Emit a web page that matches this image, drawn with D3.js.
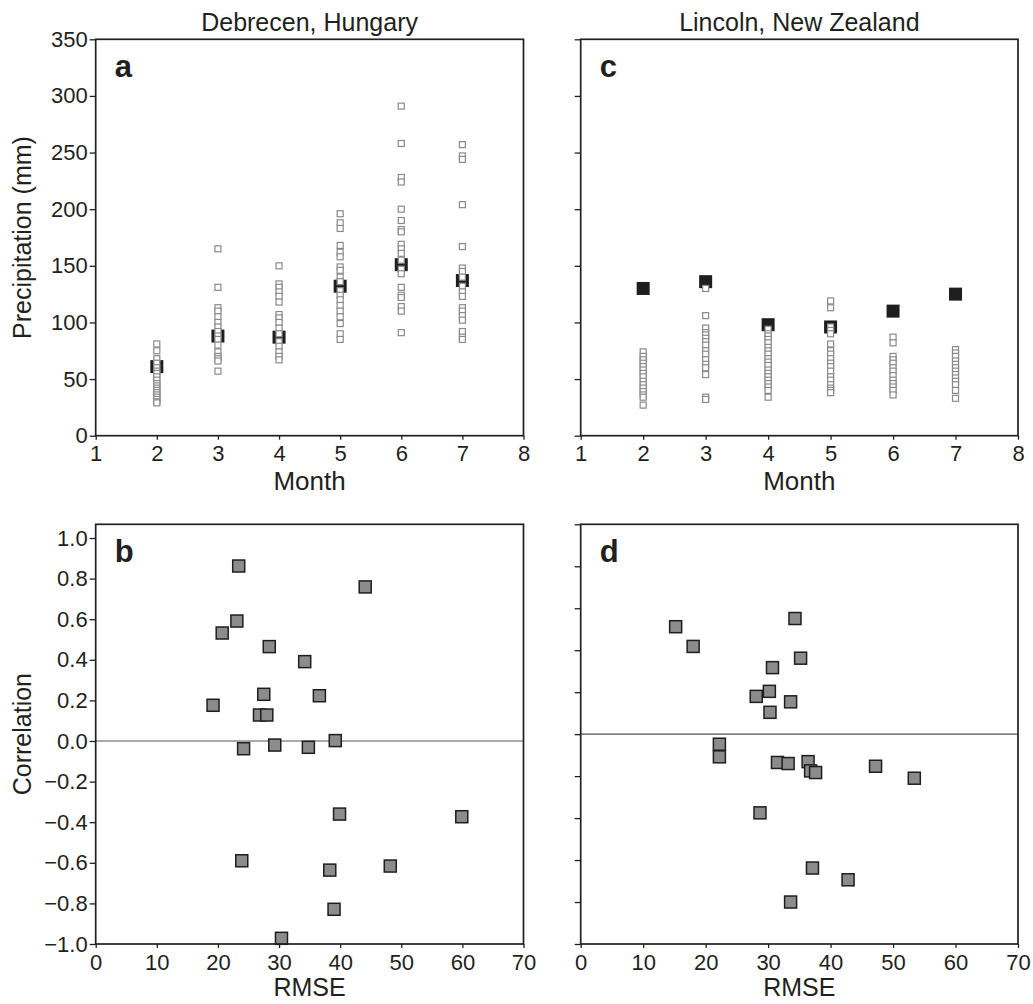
<!DOCTYPE html>
<html><head>
<meta charset="utf-8">
<title>Precipitation and correlation</title>
<script src="https://d3js.org/d3.v7.min.js"></script>
<style>
  body { margin: 0; background: #fff; }
  svg text { font-family: "Liberation Sans", Arial, sans-serif; fill: #231f20; }
  .frame { fill: none; stroke: #231f20; stroke-width: 1.7px; }
  .axis path { display: none; }
  .axis line { stroke: #231f20; stroke-width: 1.3px; }
  .axis text { font-size: 22px; }
</style>
</head>
<body>
<svg id="fig" width="1033" height="1004"></svg>
<script>

// --- data ---
const months = [2, 3, 4, 5, 6, 7];

// Debrecen: observed monthly totals (open squares) and the mean (filled)
const debMeans = [61, 88, 87, 132, 151, 137];
const debYears = [
  [81, 75, 68, 64, 60, 57, 55, 52, 49, 46, 44, 42, 40, 38, 36, 34, 32, 30, 29],
  [165, 131, 113, 110, 105, 100, 96, 92, 88, 85, 80, 74, 70, 68, 66, 57],
  [150, 134, 131, 127, 123, 118, 107, 104, 100, 95, 90, 83, 79, 74, 70, 67],
  [196, 188, 183, 168, 162, 158, 149, 146, 140, 136, 128, 124, 120, 115, 110, 105, 99, 90, 85],
  [291, 258, 228, 224, 200, 190, 182, 180, 169, 165, 161, 155, 147, 143, 131, 124, 122, 114, 110, 91],
  [257, 247, 244, 204, 167, 148, 145, 140, 132, 127, 123, 113, 110, 106, 102, 92, 87, 85]
];

// Lincoln
const linMeans = [130, 136, 98, 96, 110, 125];
const linYears = [
  [74, 70, 67, 64, 61, 58, 55, 52, 48, 45, 42, 39, 36, 34, 27],
  [130, 106, 95, 91, 89, 86, 83, 80, 75, 72, 67, 63, 60, 54, 34, 32],
  [94, 90, 88, 85, 82, 78, 75, 72, 68, 65, 62, 58, 55, 52, 49, 46, 43, 40, 34],
  [119, 113, 96, 93, 90, 81, 75, 72, 68, 64, 61, 57, 52, 49, 45, 42, 40, 38],
  [87, 82, 70, 67, 64, 60, 57, 53, 49, 46, 43, 40, 36],
  [76, 73, 70, 66, 63, 60, 57, 54, 51, 48, 45, 40, 33]
];

// RMSE vs correlation
const debRmse = [23.4, 44.1, 23.1, 20.7, 28.4, 34.2, 27.5, 36.6, 19.2, 26.8, 28.0, 24.2, 29.3, 34.8, 39.2, 39.9, 59.9, 23.9, 38.3, 48.2, 39.0, 30.4];
const debCorr = [0.862, 0.759, 0.591, 0.532, 0.465, 0.391, 0.23, 0.223, 0.176, 0.128, 0.128, -0.038, -0.02, -0.031, 0.002, -0.36, -0.373, -0.59, -0.636, -0.616, -0.829, -0.972];

const linRmse = [15.2, 18.0, 34.3, 35.2, 30.7, 30.2, 28.1, 33.6, 30.3, 22.2, 22.2, 31.5, 33.2, 36.4, 36.8, 37.6, 47.2, 53.4, 28.7, 37.1, 42.8, 33.6];
const linCorr = [0.512, 0.418, 0.551, 0.362, 0.317, 0.204, 0.180, 0.154, 0.104, -0.048, -0.108, -0.135, -0.14, -0.131, -0.175, -0.183, -0.153, -0.21, -0.375, -0.638, -0.694, -0.80];

const precipTicks = [0, 50, 100, 150, 200, 250, 300, 350];
const monthTicks = [1, 2, 3, 4, 5, 6, 7, 8];
const rmseTicks = [0, 10, 20, 30, 40, 50, 60, 70];
const corrTicks = [-1, -0.8, -0.6, -0.4, -0.2, 0, 0.2, 0.4, 0.6, 0.8, 1];

const svg = d3.select("#fig");

// panel boxes (left, right) and (top, bottom)
const colA = [95.7, 523.5], colC = [580.7, 1018];
const rowTop = [39.3, 435.7], rowBot = [524.3, 944];

function frame(xr, yr) {
  svg.append("rect").attr("class", "frame")
    .attr("x", xr[0]).attr("y", yr[0])
    .attr("width", xr[1] - xr[0]).attr("height", yr[1] - yr[0]);
}

function letter(t, xr, yr) {
  svg.append("text").attr("x", xr[0] + 19).attr("y", yr[0] + 37.5)
    .attr("font-size", 31).attr("font-weight", "bold").text(t);
}

const fmtCorr = d => (d < 0 ? "\u2212" : "") + Math.abs(d).toFixed(1);

function xAxis(x, yr, ticks) {
  svg.append("g").attr("class", "axis")
    .attr("transform", "translate(0," + yr[1] + ")")
    .call(d3.axisBottom(x).tickValues(ticks).tickSize(4).tickPadding(6).tickFormat(d3.format("d")));
}

function yAxis(y, xr, ticks, fmt) {
  const ax = d3.axisLeft(y).tickValues(ticks).tickSize(6).tickPadding(2);
  if (fmt) ax.tickFormat(fmt); else ax.tickFormat("");
  svg.append("g").attr("class", "axis")
    .attr("transform", "translate(" + xr[0] + ",0)")
    .call(ax);
}

// --- month panels (a, c) ---
function monthPanel(xr, yr, means, years, showY, lab) {
  const x = d3.scaleLinear().domain([1, 8]).range(xr);
  const y = d3.scaleLinear().domain([0, 350]).range([yr[1], yr[0]]);
  const g = svg.append("g");

  g.selectAll("rect.mean").data(months.map((m, i) => ({ m: m, v: means[i] })))
    .join("rect").attr("class", "mean")
    .attr("x", d => x(d.m) - 6.5).attr("y", d => y(d.v) - 6.5)
    .attr("width", 13).attr("height", 13)
    .attr("fill", "#1e1e1e");

  const pts = [];
  months.forEach((m, i) => years[i].forEach(v => pts.push({ m: m, v: v })));
  g.selectAll("rect.obs").data(pts)
    .join("rect").attr("class", "obs")
    .attr("x", d => x(d.m) - 3).attr("y", d => y(d.v) - 3)
    .attr("width", 6).attr("height", 6)
    .attr("fill", "#fff").attr("stroke", "#8a8a8a").attr("stroke-width", 1.2);

  frame(xr, yr);
  xAxis(x, yr, monthTicks);
  yAxis(y, xr, precipTicks, showY ? d3.format("d") : null);
  letter(lab, xr, yr);

  svg.append("text").attr("x", (xr[0] + xr[1]) / 2).attr("y", 490)
    .attr("text-anchor", "middle").attr("font-size", 26).text("Month");
}

// --- rmse panels (b, d) ---
function rmsePanel(xr, yr, rmse, corr, yDom, showY, lab) {
  const x = d3.scaleLinear().domain([0, 70]).range(xr);
  const y = d3.scaleLinear().domain(yDom).range([yr[1], yr[0]]);

  svg.append("line")
    .attr("x1", xr[0]).attr("x2", xr[1]).attr("y1", y(0)).attr("y2", y(0))
    .attr("stroke", "#555").attr("stroke-width", 1.2);

  svg.append("g").selectAll("rect").data(rmse.map((r, i) => ({ r: r, c: corr[i] })))
    .join("rect")
    .attr("x", d => x(d.r) - 6).attr("y", d => y(d.c) - 6)
    .attr("width", 12).attr("height", 12)
    .attr("fill", "#8c8c8c").attr("stroke", "#1e1e1e").attr("stroke-width", 1.5);

  frame(xr, yr);
  xAxis(x, yr, rmseTicks);
  yAxis(y, xr, corrTicks, showY ? fmtCorr : null);
  letter(lab, xr, yr);

  svg.append("text").attr("x", (xr[0] + xr[1]) / 2).attr("y", 996)
    .attr("text-anchor", "middle").attr("font-size", 25).text("RMSE");
}

monthPanel(colA, rowTop, debMeans, debYears, true, "a");
monthPanel(colC, rowTop, linMeans, linYears, false, "c");
rmsePanel(colA, rowBot, debRmse, debCorr, [-1, 1.0675], true, "b");
rmsePanel(colC, rowBot, linRmse, linCorr, [-1, 1], false, "d");

// titles
svg.append("text").attr("x", (colA[0] + colA[1]) / 2).attr("y", 31)
  .attr("text-anchor", "middle").attr("font-size", 25).text("Debrecen, Hungary");
svg.append("text").attr("x", (colC[0] + colC[1]) / 2).attr("y", 31)
  .attr("text-anchor", "middle").attr("font-size", 25).text("Lincoln, New Zealand");

// y titles
svg.append("text").attr("transform", "translate(31," + (rowTop[0] + rowTop[1]) / 2 + ") rotate(-90)")
  .attr("text-anchor", "middle").attr("font-size", 25).text("Precipitation (mm)");
svg.append("text").attr("transform", "translate(31," + (rowBot[0] + rowBot[1]) / 2 + ") rotate(-90)")
  .attr("text-anchor", "middle").attr("font-size", 25).text("Correlation");

</script>
</body>
</html>
